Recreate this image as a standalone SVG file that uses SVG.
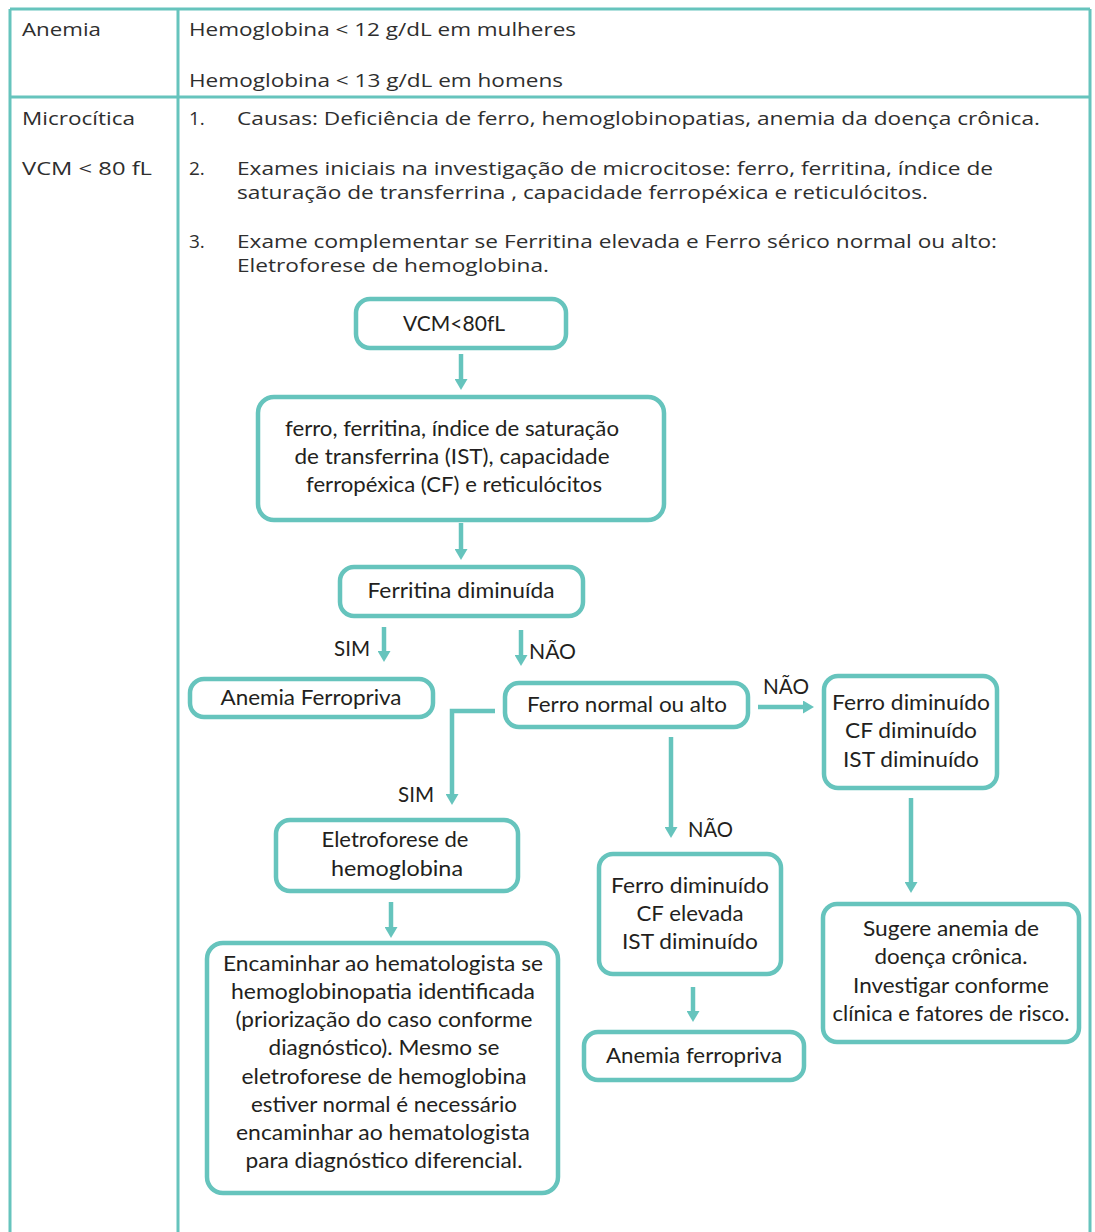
<svg xmlns="http://www.w3.org/2000/svg" width="1095" height="1232" viewBox="0 0 1095 1232">
<style>
.tl{stroke:#66c4bd;stroke-width:3;fill:none}
.tt{font-family:"Open Sans","Noto Sans",sans-serif;font-size:19px;fill:#2e2e2e}
.box{fill:#fff;stroke:#66c4bd;stroke-width:4.5}
.ft{font-family:Lato,"Open Sans",sans-serif;font-size:20.5px;fill:#231f20;text-anchor:middle}
.lb{font-family:Lato,"Open Sans",sans-serif;font-size:20.5px;fill:#231f20}
.cn{stroke:#66c4bd;stroke-width:4.5;fill:none;marker-end:url(#ah)}
</style>
<defs>
<marker id="ah" viewBox="0 0 11 13" refX="2" refY="6.5" markerWidth="11" markerHeight="13" markerUnits="userSpaceOnUse" orient="auto">
<path d="M0,0 L11,6.5 L0,13 z" fill="#66c4bd"/>
</marker>
</defs>
<rect width="1095" height="1232" fill="#fff"/>
<g id="table">
<line class="tl" x1="10" y1="9" x2="1090" y2="9"/>
<line class="tl" x1="10" y1="97" x2="1090" y2="97"/>
<line class="tl" x1="10" y1="9" x2="10" y2="1232"/>
<line class="tl" x1="178" y1="9" x2="178" y2="1232"/>
<line class="tl" x1="1090" y1="9" x2="1090" y2="1232"/>
<text class="tt" x="22" y="36" textLength="79" lengthAdjust="spacingAndGlyphs">Anemia</text>
<text class="tt" x="189" y="36" textLength="387" lengthAdjust="spacingAndGlyphs">Hemoglobina &lt; 12 g/dL em mulheres</text>
<text class="tt" x="189" y="87" textLength="374" lengthAdjust="spacingAndGlyphs">Hemoglobina &lt; 13 g/dL em homens</text>
<text class="tt" x="22" y="125" textLength="113" lengthAdjust="spacingAndGlyphs">Microcítica</text>
<text class="tt" x="22" y="175" textLength="130" lengthAdjust="spacingAndGlyphs">VCM &lt; 80 fL</text>
<text class="tt" x="189" y="125">1.</text>
<text class="tt" x="237" y="125" textLength="803" lengthAdjust="spacingAndGlyphs">Causas: Deficiência de ferro, hemoglobinopatias, anemia da doença crônica.</text>
<text class="tt" x="189" y="175">2.</text>
<text class="tt" x="237" y="175" textLength="756" lengthAdjust="spacingAndGlyphs">Exames iniciais na investigação de microcitose: ferro, ferritina, índice de</text>
<text class="tt" x="237" y="199" textLength="691" lengthAdjust="spacingAndGlyphs">saturação de transferrina , capacidade ferropéxica e reticulócitos.</text>
<text class="tt" x="189" y="248">3.</text>
<text class="tt" x="237" y="248" textLength="760" lengthAdjust="spacingAndGlyphs">Exame complementar se Ferritina elevada e Ferro sérico normal ou alto:</text>
<text class="tt" x="237" y="272" textLength="312" lengthAdjust="spacingAndGlyphs">Eletroforese de hemoglobina.</text>
</g>
<g id="connectors">
<line class="cn" x1="461" y1="354" x2="461" y2="381"/>
<line class="cn" x1="461" y1="523" x2="461" y2="551"/>
<line class="cn" x1="384" y1="627" x2="384" y2="653"/>
<line class="cn" x1="521" y1="630" x2="521" y2="657"/>
<path class="cn" d="M495,711 H452 V796"/>
<line class="cn" x1="758" y1="707" x2="805" y2="707"/>
<line class="cn" x1="671" y1="737" x2="671" y2="829"/>
<line class="cn" x1="391" y1="902" x2="391" y2="929"/>
<line class="cn" x1="693" y1="987" x2="693" y2="1013"/>
<line class="cn" x1="911" y1="798" x2="911" y2="884"/>
<text class="lb" x="334" y="656" textLength="36" lengthAdjust="spacingAndGlyphs">SIM</text>
<text class="lb" x="529" y="659" textLength="47" lengthAdjust="spacingAndGlyphs">NÃO</text>
<text class="lb" x="398" y="802" textLength="36" lengthAdjust="spacingAndGlyphs">SIM</text>
<text class="lb" x="763" y="694" textLength="46" lengthAdjust="spacingAndGlyphs">NÃO</text>
<text class="lb" x="688" y="837" textLength="45" lengthAdjust="spacingAndGlyphs">NÃO</text>
</g>
<g id="n-vcm">
<rect class="box" x="356" y="299" width="210" height="49" rx="14"/>
<text class="ft" x="454" y="331" textLength="102" lengthAdjust="spacingAndGlyphs">VCM&lt;80fL</text>
</g>
<g id="n-exames">
<rect class="box" x="258" y="397" width="406" height="123" rx="16"/>
<text class="ft" x="452" y="436" textLength="334" lengthAdjust="spacingAndGlyphs">ferro, ferritina, índice de saturação</text>
<text class="ft" x="452" y="464" textLength="315" lengthAdjust="spacingAndGlyphs">de transferrina (IST), capacidade</text>
<text class="ft" x="454" y="492" textLength="296" lengthAdjust="spacingAndGlyphs">ferropéxica (CF) e reticulócitos</text>
</g>
<g id="n-ferritina">
<rect class="box" x="340" y="567" width="243" height="49" rx="14"/>
<text class="ft" x="461" y="598" textLength="187" lengthAdjust="spacingAndGlyphs">Ferritina diminuída</text>
</g>
<g id="n-anemia-ferropriva-1">
<rect class="box" x="190" y="679" width="243" height="38" rx="14"/>
<text class="ft" x="311" y="705" textLength="181" lengthAdjust="spacingAndGlyphs">Anemia Ferropriva</text>
</g>
<g id="n-ferro-normal">
<rect class="box" x="505" y="683" width="243" height="44" rx="14"/>
<text class="ft" x="627" y="712" textLength="200" lengthAdjust="spacingAndGlyphs">Ferro normal ou alto</text>
</g>
<g id="n-ferro-dim-cf-dim">
<rect class="box" x="824" y="676" width="173" height="112" rx="14"/>
<text class="ft" x="911" y="710" textLength="158" lengthAdjust="spacingAndGlyphs">Ferro diminuído</text>
<text class="ft" x="911" y="738" textLength="132" lengthAdjust="spacingAndGlyphs">CF diminuído</text>
<text class="ft" x="911" y="767" textLength="136" lengthAdjust="spacingAndGlyphs">IST diminuído</text>
</g>
<g id="n-eletroforese">
<rect class="box" x="276" y="820" width="242" height="71" rx="14"/>
<text class="ft" x="395" y="847" textLength="147" lengthAdjust="spacingAndGlyphs">Eletroforese de</text>
<text class="ft" x="397" y="876" textLength="132" lengthAdjust="spacingAndGlyphs">hemoglobina</text>
</g>
<g id="n-encaminhar">
<rect class="box" x="207" y="943" width="351" height="250" rx="16"/>
<text class="ft" x="383" y="971" textLength="320" lengthAdjust="spacingAndGlyphs">Encaminhar ao hematologista se</text>
<text class="ft" x="383" y="999" textLength="304" lengthAdjust="spacingAndGlyphs">hemoglobinopatia identificada</text>
<text class="ft" x="384" y="1027" textLength="297" lengthAdjust="spacingAndGlyphs">(priorização do caso conforme</text>
<text class="ft" x="384" y="1055" textLength="231" lengthAdjust="spacingAndGlyphs">diagnóstico). Mesmo se</text>
<text class="ft" x="384" y="1084" textLength="285" lengthAdjust="spacingAndGlyphs">eletroforese de hemoglobina</text>
<text class="ft" x="384" y="1112" textLength="266" lengthAdjust="spacingAndGlyphs">estiver normal é necessário</text>
<text class="ft" x="383" y="1140" textLength="294" lengthAdjust="spacingAndGlyphs">encaminhar ao hematologista</text>
<text class="ft" x="384" y="1168" textLength="277" lengthAdjust="spacingAndGlyphs">para diagnóstico diferencial.</text>
</g>
<g id="n-ferro-dim-cf-elev">
<rect class="box" x="599" y="854" width="182" height="120" rx="14"/>
<text class="ft" x="690" y="893" textLength="158" lengthAdjust="spacingAndGlyphs">Ferro diminuído</text>
<text class="ft" x="690" y="921" textLength="107" lengthAdjust="spacingAndGlyphs">CF elevada</text>
<text class="ft" x="690" y="949" textLength="136" lengthAdjust="spacingAndGlyphs">IST diminuído</text>
</g>
<g id="n-anemia-ferropriva-2">
<rect class="box" x="584" y="1032" width="220" height="48" rx="14"/>
<text class="ft" x="694" y="1063" textLength="176" lengthAdjust="spacingAndGlyphs">Anemia ferropriva</text>
</g>
<g id="n-doenca-cronica">
<rect class="box" x="823" y="904" width="256" height="138" rx="14"/>
<text class="ft" x="951" y="936" textLength="176" lengthAdjust="spacingAndGlyphs">Sugere anemia de</text>
<text class="ft" x="951" y="964" textLength="153" lengthAdjust="spacingAndGlyphs">doença crônica.</text>
<text class="ft" x="951" y="993" textLength="196" lengthAdjust="spacingAndGlyphs">Investigar conforme</text>
<text class="ft" x="951" y="1021" textLength="237" lengthAdjust="spacingAndGlyphs">clínica e fatores de risco.</text>
</g>
</svg>
